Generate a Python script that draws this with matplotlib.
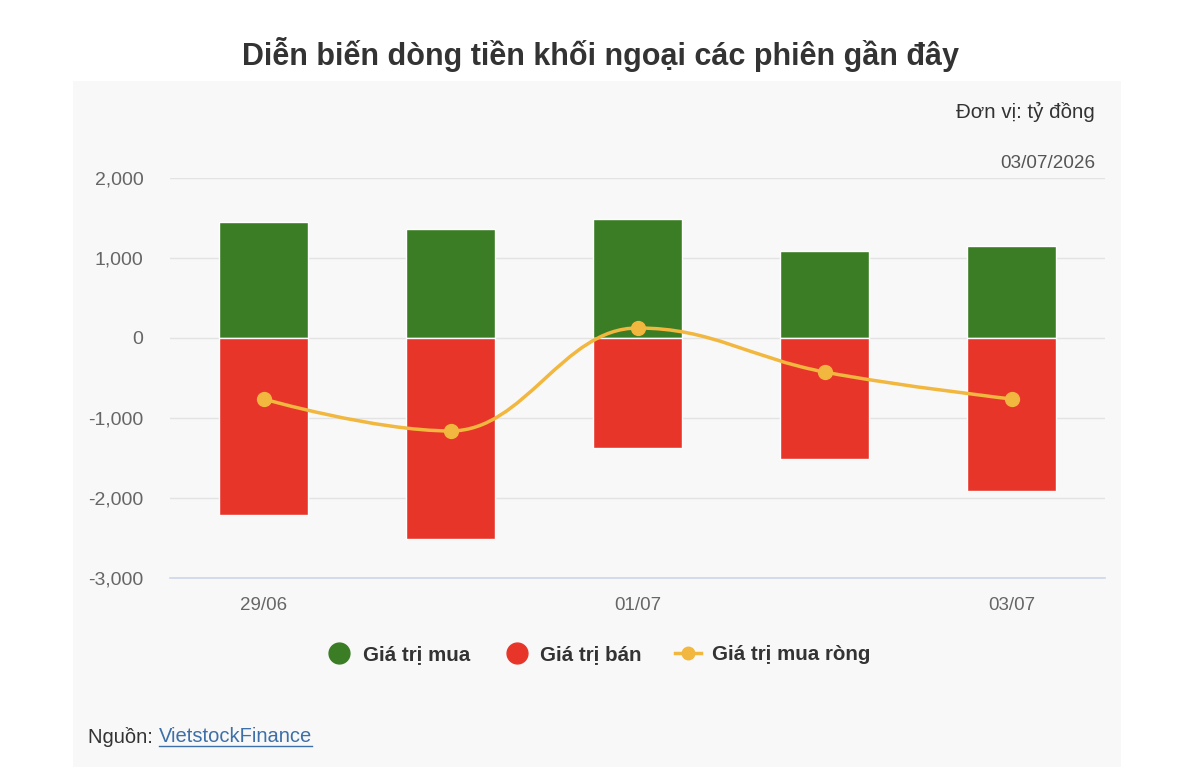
"""
    plot.py

    Foreign investor flows over recent sessions (buy / sell / net)
"""

from matplotlib import pyplot as plt
from matplotlib.path import Path
from matplotlib.patches import PathPatch, Rectangle
from matplotlib.lines import Line2D

import numpy as np

plt.rcParams['font.family'] = ['Liberation Sans', 'DejaVu Sans']

dates = ['29/06', '30/06', '01/07', '02/07', '03/07']
buy = [1450, 1362, 1487, 1087, 1150]
sell = [-2212, -2512, -1375, -1512, -1912]
net = [-762, -1162, 125, -425, -762]

shown_ticks = ['29/06', '', '01/07', '', '03/07']
yticks = [-3000, -2000, -1000, 0, 1000, 2000]

green = '#3a7d24'
red = '#e8352a'
orange = '#f1b73e'


def spline_path(xs, ys, smoothing=1.5):
    # highcharts-like spline through the points
    n = len(xs)
    lc = [None] * n
    rc = [None] * n
    for i in range(n):
        if i == 0 or i == n - 1:
            lc[i] = (xs[i], ys[i])
            rc[i] = (xs[i], ys[i])
            continue
        d = smoothing + 1
        lx = (smoothing * xs[i] + xs[i - 1]) / d
        ly = (smoothing * ys[i] + ys[i - 1]) / d
        rx = (smoothing * xs[i] + xs[i + 1]) / d
        ry = (smoothing * ys[i] + ys[i + 1]) / d
        corr = (ry - ly) * (rx - xs[i]) / (rx - lx) + ys[i] - ry
        ly += corr
        ry += corr
        if ly > ys[i - 1] and ly > ys[i]:
            ly = max(ys[i - 1], ys[i])
            ry = 2 * ys[i] - ly
        elif ly < ys[i - 1] and ly < ys[i]:
            ly = min(ys[i - 1], ys[i])
            ry = 2 * ys[i] - ly
        if ry > ys[i + 1] and ry > ys[i]:
            ry = max(ys[i + 1], ys[i])
            ly = 2 * ys[i] - ry
        elif ry < ys[i + 1] and ry < ys[i]:
            ry = min(ys[i + 1], ys[i])
            ly = 2 * ys[i] - ry
        lc[i] = (lx, ly)
        rc[i] = (rx, ry)
    verts = [(xs[0], ys[0])]
    codes = [Path.MOVETO]
    for i in range(1, n):
        verts += [rc[i - 1], lc[i], (xs[i], ys[i])]
        codes += [Path.CURVE4] * 3
    return Path(verts, codes)


fig = plt.figure(figsize=(12, 7.84), dpi=100)
fig.patch.set_facecolor('white')

# grey panel behind the chart
fig.patches.append(Rectangle((73 / 1200, 1 - 767 / 784), 1048 / 1200, 686 / 784,
                             transform=fig.transFigure, facecolor='#f8f8f8',
                             edgecolor='none', zorder=-1))

ax = fig.add_axes([170 / 1200, 1 - 578 / 784, 935 / 1200, 400 / 784])
ax.set_zorder(2)
ax.set_facecolor('none')

x = np.arange(len(dates))

ax.bar(x, buy, width=0.48, color=green, edgecolor='white', linewidth=1, zorder=2)
ax.bar(x, sell, width=0.48, color=red, edgecolor='white', linewidth=1, zorder=2)

path = spline_path(list(x.astype(float)), [float(v) for v in net])
ax.add_patch(PathPatch(path, facecolor='none', edgecolor=orange, linewidth=2.5,
                       zorder=3, capstyle='round'))
ax.plot(x, net, linestyle='none', marker='o', markersize=10, color=orange, zorder=4)

ax.set_xlim(-0.5, 4.5)
ax.set_ylim(-3000, 2000)
ax.set_yticks(yticks)
ax.set_yticklabels(['{:,}'.format(v) for v in yticks])
ax.set_xticks(x)
ax.set_xticklabels(shown_ticks)

for s in ['top', 'right', 'left']:
    ax.spines[s].set_visible(False)
ax.spines['bottom'].set_color('#ccd6eb')
ax.spines['bottom'].set_linewidth(1.2)

ax.grid(axis='y', color='#e3e3e3', linewidth=1, zorder=0)
ax.set_axisbelow(True)
ax.tick_params(axis='both', length=0, labelcolor='#666666')
ax.tick_params(axis='y', pad=19, labelsize=14)
ax.tick_params(axis='x', pad=14, labelsize=13.5)

fig.text(0.5, 1 - 55 / 784, 'Diễn biến dòng tiền khối ngoại các phiên gần đây',
         ha='center', va='center', fontsize=22, fontweight='bold', color='#333333')

fig.text(1095 / 1200, 1 - 112 / 784, 'Đơn vị: tỷ đồng', ha='right', va='center',
         fontsize=14.8, color='#333333')
fig.text(1095 / 1200, 1 - 163 / 784, '03/07/2026', ha='right', va='center',
         fontsize=13.6, color='#555555')

handles = [
    Line2D([], [], linestyle='none', marker='o', markersize=15, color=green),
    Line2D([], [], linestyle='none', marker='o', markersize=15, color=red),
    Line2D([], [], color=orange, linewidth=2.5, marker='o', markersize=9),
]
labels = ['Giá trị mua', 'Giá trị bán', 'Giá trị mua ròng']
leg = fig.legend(handles, labels, loc='center', bbox_to_anchor=(598 / 1200, 1 - 655 / 784),
                 ncol=3, frameon=False, handlelength=1.3, columnspacing=1.6,
                 handletextpad=0.5, prop={'weight': 'bold', 'size': 14.8})
for t in leg.get_texts():
    t.set_color('#333333')

src = fig.text(88 / 1200, 1 - 737 / 784, 'Nguồn: ', ha='left', va='center',
               fontsize=14.5, color='#333333')
fig.canvas.draw()
r = fig.canvas.get_renderer()
bb = src.get_window_extent(r)
link_x = bb.x1 / fig.bbox.width
link = fig.text(link_x, 1 - 737 / 784, 'VietstockFinance', ha='left', va='center',
                fontsize=14.5, color='#3d6fa8')
fig.canvas.draw()
lb = link.get_window_extent(r)
uy = (lb.y0 + 1) / fig.bbox.height
fig.lines.append(Line2D([lb.x0 / fig.bbox.width, lb.x1 / fig.bbox.width], [uy, uy],
                        transform=fig.transFigure, color='#3d6fa8', linewidth=1))

fig.savefig('out.png', dpi=100)
